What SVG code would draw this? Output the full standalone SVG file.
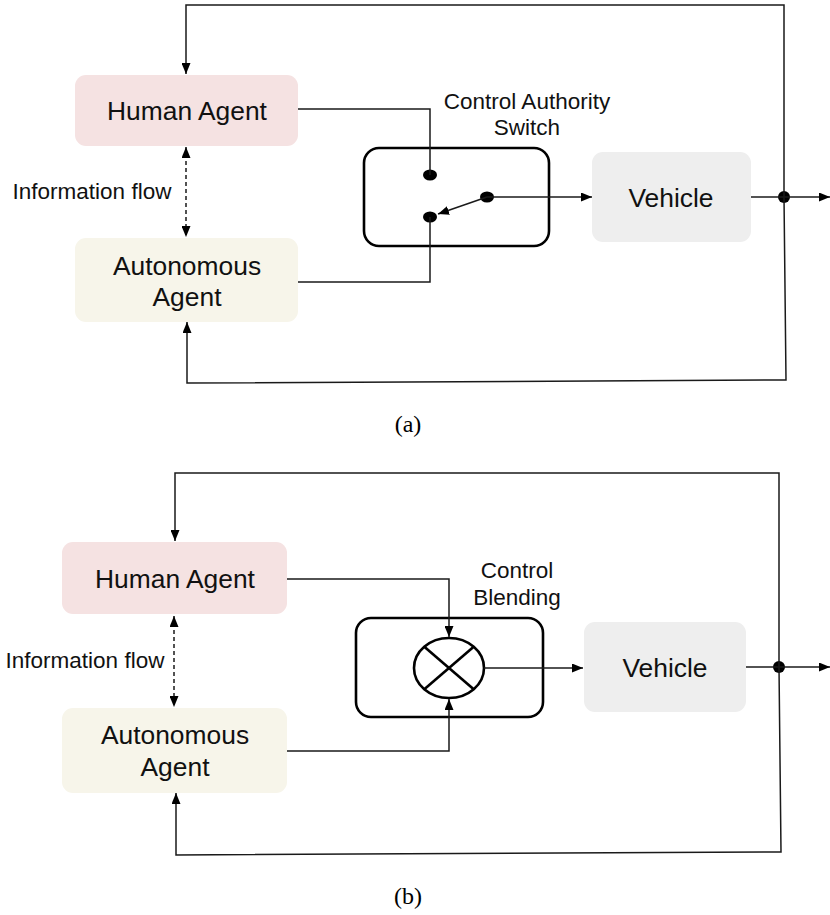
<svg xmlns="http://www.w3.org/2000/svg" width="830" height="915" viewBox="0 0 830 915">
  <style>
    .bg { fill: #ffffff; }
    .human { fill: #f5e2e2; }
    .auto { fill: #f7f5ea; }
    .vehicle { fill: #eeeeee; }
    .frame { fill: none; stroke: #000; stroke-width: 2.6; }
    .wire { fill: none; stroke: #1a1a1a; stroke-width: 1.5; }
    .dash { fill: none; stroke: #1a1a1a; stroke-width: 1.5; stroke-dasharray: 4 3; }
    .node-label { font-family: "Liberation Sans", Arial, sans-serif; font-size: 26.4px; fill: #111; text-anchor: middle; }
    .small-label { font-family: "Liberation Sans", Arial, sans-serif; font-size: 22.5px; fill: #111; text-anchor: middle; }
    .caption { font-family: "Liberation Serif", "Times New Roman", serif; font-size: 24px; fill: #000; text-anchor: middle; }
    .dot { fill: #000; }
  </style>
  <defs>
    <marker id="arrow" viewBox="0 0 11 9" markerWidth="11" markerHeight="9" refX="11" refY="4.5" orient="auto-start-reverse" markerUnits="userSpaceOnUse">
      <path d="M0,0 L11,4.5 L0,9 z" fill="#000"/>
    </marker>
  </defs>
  <rect class="bg" x="0" y="0" width="830" height="915"/>

  <!-- Panel (a): control authority switch -->
  <g id="a-human">
    <rect class="human" x="75" y="75" width="223" height="71" rx="11"/>
    <text class="node-label" x="187" y="120">Human Agent</text>
  </g>
  <g id="a-autonomous">
    <rect class="auto" x="75" y="238" width="223" height="84" rx="11"/>
    <text class="node-label" x="187" y="275">Autonomous</text>
    <text class="node-label" x="187" y="306">Agent</text>
  </g>
  <g id="a-switch">
    <rect class="frame" x="364" y="148" width="185" height="98" rx="15"/>
    <text class="small-label" x="527" y="109">Control Authority</text>
    <text class="small-label" x="527" y="135">Switch</text>
    <ellipse class="dot" cx="430" cy="175" rx="7" ry="5.5"/>
    <ellipse class="dot" cx="430" cy="217" rx="7" ry="5.5"/>
    <ellipse class="dot" cx="487" cy="197" rx="7" ry="5.5"/>
  </g>
  <g id="a-vehicle">
    <rect class="vehicle" x="592" y="152" width="159" height="90" rx="11"/>
    <text class="node-label" x="671" y="207">Vehicle</text>
  </g>
  <g id="a-junction">
    <circle class="dot" cx="784" cy="197" r="6"/>
  </g>
  <text class="caption" x="408" y="432">(a)</text>

  <g id="a-connectors">
    <polyline class="wire" points="298,109 430,109 430,175"/>
    <polyline class="wire" points="298,282 430,282 430,217"/>
    <line class="wire" x1="487" y1="197" x2="438" y2="214" marker-end="url(#arrow)"/>
    <line class="wire" x1="487" y1="197" x2="592" y2="197" marker-end="url(#arrow)"/>
    <line class="wire" x1="751" y1="197" x2="830" y2="197" marker-end="url(#arrow)"/>
    <polyline class="wire" points="784,197 784,5 186,5 186,74" marker-end="url(#arrow)"/>
    <polyline class="wire" points="784,197 786,380 187,383 187,322" marker-end="url(#arrow)"/>
    <line class="dash" x1="186" y1="147" x2="186" y2="237" marker-start="url(#arrow)" marker-end="url(#arrow)"/>
    <text class="small-label" x="92" y="199">Information flow</text>
  </g>

  <!-- Panel (b): control blending -->
  <g id="b-human">
    <rect class="human" x="62" y="542" width="225" height="72" rx="11"/>
    <text class="node-label" x="175" y="588">Human Agent</text>
  </g>
  <g id="b-autonomous">
    <rect class="auto" x="62" y="708" width="225" height="85" rx="11"/>
    <text class="node-label" x="175" y="744">Autonomous</text>
    <text class="node-label" x="175" y="776">Agent</text>
  </g>
  <g id="b-blending">
    <rect class="frame" x="356" y="618" width="187" height="99" rx="15"/>
    <text class="small-label" x="517" y="578">Control</text>
    <text class="small-label" x="517" y="605">Blending</text>
    <ellipse class="frame" cx="449" cy="668" rx="35" ry="30" stroke-width="2.4"/>
    <line class="frame" x1="424.3" y1="646.8" x2="473.7" y2="689.2" stroke-width="2.4"/>
    <line class="frame" x1="473.7" y1="646.8" x2="424.3" y2="689.2" stroke-width="2.4"/>
  </g>
  <g id="b-vehicle">
    <rect class="vehicle" x="584" y="622" width="162" height="90" rx="11"/>
    <text class="node-label" x="665" y="677">Vehicle</text>
  </g>
  <g id="b-junction">
    <circle class="dot" cx="779" cy="667" r="6"/>
  </g>
  <text class="caption" x="408" y="904">(b)</text>

  <g id="b-connectors">
    <polyline class="wire" points="287,579 449,579 449,637" marker-end="url(#arrow)"/>
    <polyline class="wire" points="287,751 449,751 449,699" marker-end="url(#arrow)"/>
    <line class="wire" x1="484" y1="668" x2="583" y2="668" marker-end="url(#arrow)"/>
    <line class="wire" x1="746" y1="667" x2="830" y2="667" marker-end="url(#arrow)"/>
    <polyline class="wire" points="779,667 779,473 175,473 175,541" marker-end="url(#arrow)"/>
    <polyline class="wire" points="779,667 781,852 176,855 176,793" marker-end="url(#arrow)"/>
    <line class="dash" x1="174" y1="616" x2="174" y2="707" marker-start="url(#arrow)" marker-end="url(#arrow)"/>
    <text class="small-label" x="85" y="668">Information flow</text>
  </g>
</svg>
